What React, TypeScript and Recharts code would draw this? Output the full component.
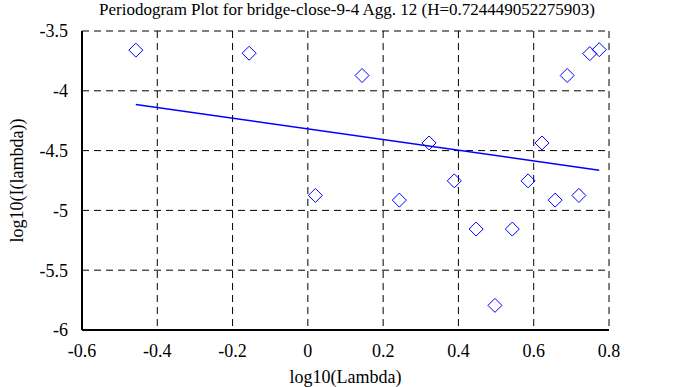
import {
  ComposedChart,
  Scatter,
  Line,
  XAxis,
  YAxis,
  CartesianGrid,
} from "recharts";

// periodogram points (log10 lambda, log10 I(lambda))
const logLambda = [
  -0.457, -0.156, 0.02, 0.144, 0.243, 0.322, 0.389, 0.447, 0.497,
  0.543, 0.585, 0.622, 0.657, 0.689, 0.72, 0.749, 0.774,
];
const logPower = [
  -3.66, -3.686, -4.875, -3.872, -4.914, -4.436, -4.753, -5.156, -5.794,
  -5.156, -4.753, -4.436, -4.914, -3.872, -4.875, -3.689, -3.656,
];

// least squares fit end points
const fitX = [-0.457, 0.774];
const fitY = [-4.114, -4.664];

const xTicks = [-0.6, -0.4, -0.2, 0, 0.2, 0.4, 0.6, 0.8];
const yTicks = [-6, -5.5, -5, -4.5, -4, -3.5];

const TITLE = "Periodogram Plot for bridge-close-9-4 Agg. 12 (H=0.724449052275903)";
const FONT = "'Liberation Serif', serif";

const points = logLambda.map((x, i) => ({ x, y: logPower[i] }));
const fitLine = fitX.map((x, i) => ({ x, y: fitY[i] }));

function Diamond(props: { cx?: number; cy?: number }) {
  const { cx, cy } = props;
  if (cx == null || cy == null) return null;
  const r = 7;
  return (
    <path
      d={`M${cx},${cy - r}L${cx + r},${cy}L${cx},${cy + r}L${cx - r},${cy}Z`}
      fill="none"
      stroke="#0000ff"
      strokeWidth={1}
    />
  );
}

export default function App() {
  const textStyle = { fill: "#000", fontSize: 18 };
  return (
    <div
      style={{
        position: "absolute",
        left: 0,
        top: 0,
        width: 688,
        height: 387,
        background: "#fff",
        fontFamily: FONT,
      }}
    >
      <style>{`svg text, svg tspan { font-family: ${FONT} !important; }`}</style>
      <div
        style={{
          position: "absolute",
          left: 0,
          width: 694,
          top: 0,
          textAlign: "center",
          fontSize: 17,
          lineHeight: "20px",
          color: "#000",
        }}
      >
        {TITLE}
      </div>
      <ComposedChart
        width={688}
        height={387}
        margin={{ top: 31, right: 79, bottom: 0, left: 0 }}
      >
        <CartesianGrid stroke="#000" strokeDasharray="7 5" verticalValues={xTicks} horizontalValues={yTicks} />
        <XAxis
          type="number"
          dataKey="x"
          domain={[-0.6, 0.8]}
          ticks={xTicks}
          tickLine={false}
          tickMargin={8}
          height={57}
          axisLine={{ stroke: "#000", strokeWidth: 2 }}
          tick={textStyle}
          allowDataOverflow
          label={{ value: "log10(Lambda)", position: "insideBottom", offset: 4, style: textStyle }}
        />
        <XAxis
          xAxisId="bm"
          type="number"
          domain={[-0.6, 0.8]}
          ticks={xTicks}
          orientation="bottom"
          mirror
          height={0}
          tick={false}
          tickSize={6}
          tickLine={{ stroke: "#000", strokeWidth: 2 }}
          axisLine={false}
          allowDataOverflow
        />
        <XAxis
          xAxisId="top"
          type="number"
          domain={[-0.6, 0.8]}
          ticks={xTicks}
          orientation="top"
          mirror
          height={0}
          tick={false}
          tickSize={6}
          tickLine={{ stroke: "#000", strokeWidth: 2 }}
          axisLine={{ stroke: "#000", strokeWidth: 2 }}
          allowDataOverflow
        />
        <YAxis
          type="number"
          dataKey="y"
          domain={[-6, -3.5]}
          ticks={yTicks}
          tickLine={false}
          tickMargin={8}
          width={82}
          axisLine={{ stroke: "#000", strokeWidth: 2 }}
          tick={textStyle}
          allowDataOverflow
          label={{
            value: "log10(I(lambda))",
            angle: -90,
            position: "insideLeft",
            offset: 17,
            style: { ...textStyle, textAnchor: "middle" },
          }}
        />
        <YAxis
          yAxisId="lm"
          type="number"
          domain={[-6, -3.5]}
          ticks={yTicks}
          orientation="left"
          mirror
          width={0}
          tick={false}
          tickSize={6}
          tickLine={{ stroke: "#000", strokeWidth: 2 }}
          axisLine={false}
          allowDataOverflow
        />
        <YAxis
          yAxisId="right"
          type="number"
          domain={[-6, -3.5]}
          ticks={yTicks}
          orientation="right"
          mirror
          width={0}
          tick={false}
          tickSize={6}
          tickLine={{ stroke: "#000", strokeWidth: 2 }}
          axisLine={{ stroke: "#000", strokeWidth: 2 }}
          allowDataOverflow
        />
        <Scatter data={points} dataKey="y" shape={<Diamond />} isAnimationActive={false} />
        <Line
          data={fitLine}
          dataKey="y"
          type="linear"
          stroke="#0000ff"
          strokeWidth={1.5}
          dot={false}
          activeDot={false}
          isAnimationActive={false}
        />
      </ComposedChart>
    </div>
  );
}
